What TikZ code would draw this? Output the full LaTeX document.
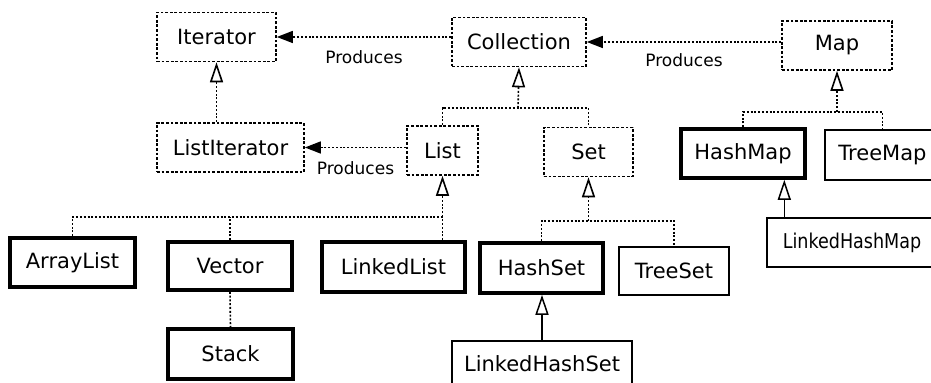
\documentclass[tikz,border=0pt]{standalone}
\usepackage{fontspec}
\setmainfont{DejaVu Sans}
\newfontfamily\narrowfont[FakeStretch=0.86]{DejaVu Sans}
\usetikzlibrary{arrows.meta,positioning,calc}

\tikzset{
  box/.style={rectangle, inner sep=0pt, minimum height=24.5pt, font=\fontsize{10.5}{12}\selectfont},
  iface/.style={box, draw, line width=0.85pt, dash pattern=on 1.4pt off 0.9pt},
  impl/.style={box, draw, line width=1.8pt},
  cls/.style={box, draw, line width=0.7pt},
  link/.style={line width=0.8pt, dash pattern=on 1pt off 0.9pt},
  extends/.style={-{Triangle[open,length=10pt,width=6.5pt]}},
  produces/.style={link, -{Triangle[length=8pt,width=6pt]}},
  tag/.style={font=\fontsize{8.5}{10}\selectfont, inner sep=1pt}
}

\begin{document}
\begin{tikzpicture}[x=0.5pt,y=-0.5pt]
        \useasboundingbox (0,0) rectangle (931,383);
        \clip (0,0) rectangle (931,383);

        % Interfaces
        \node[iface, minimum width=59.5pt] (iterator) at (216.5,37) {Iterator};
        \node[iface, minimum width=67pt] (collection) at (519,42) {Collection};
        \node[iface, minimum width=55pt] (map) at (837,45.5) {Map};
        \node[iface, minimum width=73.5pt] (listIter) at (230.5,147.5) {ListIterator};
        \node[iface, minimum width=35.5pt] (list) at (442.5,150.5) {List};
        \node[iface, minimum width=44.5pt] (set) at (588.5,152) {Set};

        % Classes
        \node[impl, minimum width=62pt] (hashMap) at (743,153.5) {HashMap};
        \node[cls, minimum width=57.5pt, minimum height=25pt] (treeMap) at (882.5,155) {TreeMap};
        \node[cls, minimum width=85pt, font=\narrowfont\fontsize{10.2}{12}\selectfont] (linkedHashMap) at (852,242.5) {LinkedHashMap};
        \node[impl, minimum width=62.5pt] (arrayList) at (72.5,262.5) {ArrayList};
        \node[impl, minimum width=62pt, minimum height=24pt] (vector) at (230,266) {Vector};
        \node[impl, minimum width=71.5pt, minimum height=25pt] (linkedList) at (393.5,267) {LinkedList};
        \node[impl, minimum width=62.5pt, minimum height=25pt] (stack) at (230.5,354) {Stack};
        \node[impl, minimum width=61.5pt, minimum height=25pt] (hashSet) at (541.5,268) {HashSet};
        \node[cls, minimum width=55pt, minimum height=24pt] (treeSet) at (674,271) {TreeSet};
        \node[cls, minimum width=90pt, minimum height=23pt] (linkedHashSet) at (542,364) {LinkedHashSet};

        % Junctions of the inheritance lines
        \coordinate (collJoin) at (518,108);
        \coordinate (mapJoin) at (837,112);
        \coordinate (listJoin) at (442.5,217);
        \coordinate (setJoin) at (588.5,221);

        % Produces arcs
        \draw[produces] (collection.west |- iterator.east) to node[tag, below=5.5pt] {Produces} (iterator.east);
        \draw[produces] (map.west |- collection.east) to node[tag, below=4.5pt] {Produces} (collection.east);
        \draw[produces] (list.west |- listIter.east) to node[tag, below=5.5pt] {Produces} (listIter.east);

        % Interface inheritance
        \draw[link, extends] (iterator.south |- listIter.north) -- (iterator.south);
        \draw[link] (list.north) |- (collJoin) -| (set.north);
        \draw[link, extends] (collJoin) -- (collection.south);
        \draw[link] (hashMap.north) |- (mapJoin) -| (treeMap.north);
        \draw[link, extends] (mapJoin) -- (map.south);

        % Class inheritance
        \draw[link] (arrayList.north) |- (listJoin);
        \draw[link] (vector.north) -- (vector.north |- listJoin);
        \draw[link] (list.south |- linkedList.north) -- (listJoin);
        \draw[link, extends] (listJoin) -- (list.south);
        \draw[link] (hashSet.north) |- (setJoin) -| (treeSet.north);
        \draw[link, extends] (setJoin) -- (set.south);
        \draw[link] (vector.south) -- (stack.north);
        \draw[line width=0.75pt, extends] (linkedHashSet.north) -- (linkedHashSet.north |- hashSet.south);
        \draw[line width=0.75pt, extends] ([xshift=9pt]linkedHashMap.north west) -- ([xshift=9pt]linkedHashMap.north west |- hashMap.south);

\end{tikzpicture}
\end{document}
